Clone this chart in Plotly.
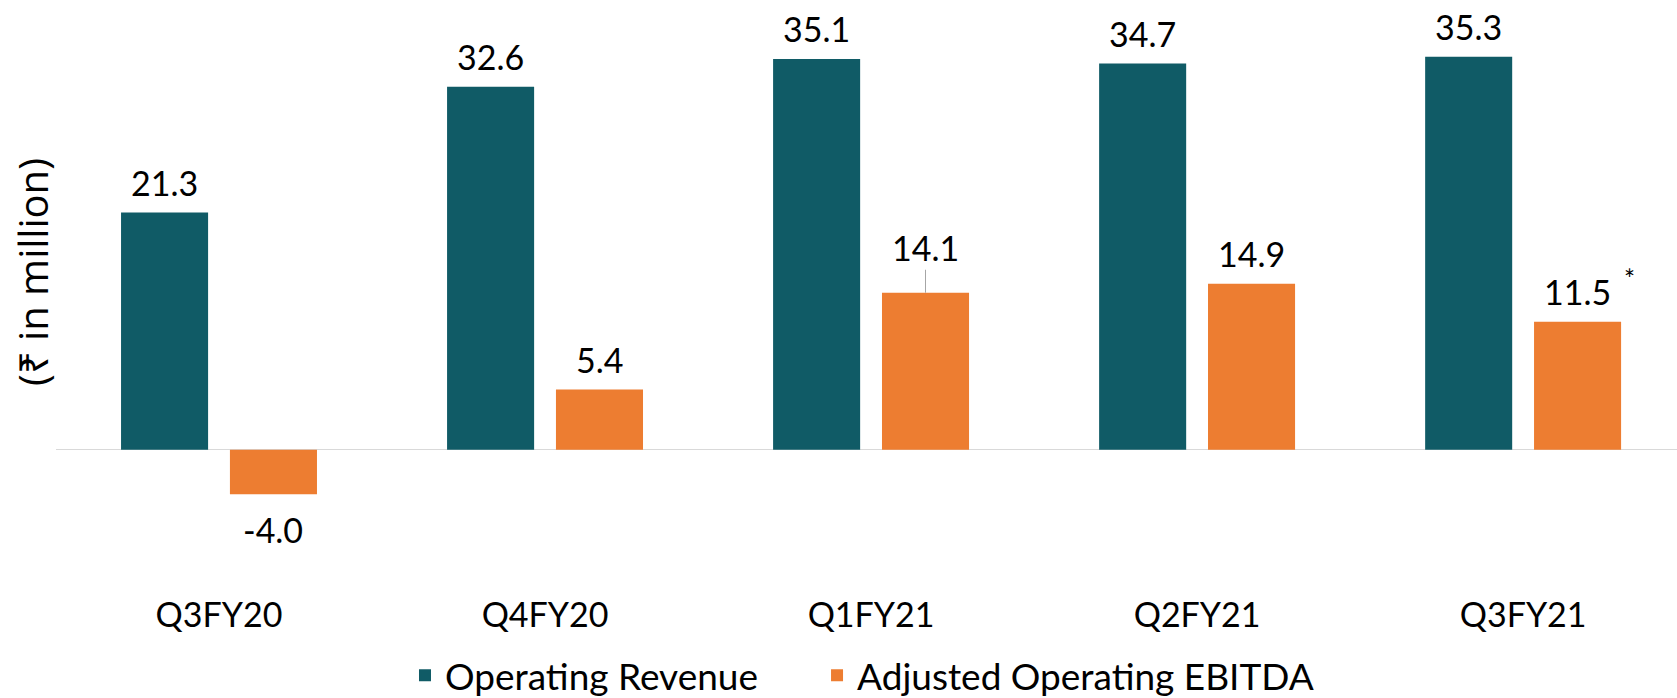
import plotly.graph_objects as go

# ---- data ----
categories = ["Q3FY20", "Q4FY20", "Q1FY21", "Q2FY21", "Q3FY21"]
operating_revenue = [21.3, 32.6, 35.1, 34.7, 35.3]
adjusted_ebitda = [-4.0, 5.4, 14.1, 14.9, 11.5]
series_names = ["Operating Revenue", "Adjusted Operating EBITDA"]
ebitda_notes = ["", "", "", "", "*"]
y_title = "(₹ in million)"

# ---- style ----
TEAL = "#105B66"
ORANGE = "#ED7D31"
FONT = "Lato"
FS = 34
BAR_W = 0.267
GAP = 0.067
off_rev = -(BAR_W + GAP / 2)
off_ebt = GAP / 2
LEADER_IDX = 2  # EBITDA label lifted with a leader line

x = list(range(len(categories)))

fig = go.Figure()
fig.add_bar(x=x, y=operating_revenue, width=BAR_W, offset=off_rev,
            marker=dict(color=TEAL, line=dict(width=0)), name=series_names[0],
            legend="legend")
fig.add_bar(x=x, y=adjusted_ebitda, width=BAR_W, offset=off_ebt,
            marker=dict(color=ORANGE, line=dict(width=0)), name=series_names[1],
            legend="legend2")

annotations = []


def add_label(xc, v, text, leader=False):
    if leader:
        annotations.append(dict(x=xc, y=v, xref="x", yref="y", text=text,
                                showarrow=True, arrowhead=0, arrowwidth=1,
                                arrowcolor="#A6A6A6", ax=0, ay=-45,
                                font=dict(family=FONT, size=FS, color="#000")))
    else:
        annotations.append(dict(x=xc, y=v, xref="x", yref="y", text=text,
                                showarrow=False, yanchor="middle",
                                yshift=30 if v >= 0 else -35,
                                font=dict(family=FONT, size=FS, color="#000")))


for i, v in enumerate(operating_revenue):
    add_label(i + off_rev + BAR_W / 2, v, f"{v:.1f}")
for i, v in enumerate(adjusted_ebitda):
    xc = i + off_ebt + BAR_W / 2
    add_label(xc, v, f"{v:.1f}", leader=(i == LEADER_IDX))
    if ebitda_notes[i]:
        annotations.append(dict(x=xc, y=v, xref="x", yref="y", text=ebitda_notes[i],
                                showarrow=False, xanchor="center", yanchor="middle",
                                xshift=52, yshift=43,
                                font=dict(family=FONT, size=26, color="#000")))

annotations.append(dict(x=-0.0148, y=0.515, xref="paper", yref="paper", text=y_title,
                        textangle=-90, showarrow=False, xanchor="center", yanchor="middle",
                        font=dict(family="Open Sans", size=40, color="#000")))

legend_common = dict(orientation="h", yref="container", y=0.032, yanchor="middle",
                     xref="container", xanchor="left",
                     font=dict(family=FONT, size=37, color="#000"),
                     bgcolor="rgba(0,0,0,0)")

fig.update_layout(
    width=1677, height=698,
    margin=dict(l=56, r=0, t=0, b=137),
    paper_bgcolor="white", plot_bgcolor="white",
    barmode="overlay",
    font=dict(family=FONT, size=FS, color="#000"),
    showlegend=True,
    legend=dict(x=0.2415, **legend_common),
    legend2=dict(x=0.4872, **legend_common),
    annotations=annotations,
)
fig.update_xaxes(tickmode="array", tickvals=x, ticktext=categories, range=[-0.5, 4.472],
                 showgrid=False, zeroline=False, showline=False, ticks="",
                 ticklabelstandoff=31, tickfont=dict(family=FONT, size=FS, color="#000"))
fig.update_yaxes(range=[-10, 40.4], showgrid=False, showticklabels=False, ticks="",
                 zeroline=True, zerolinecolor="#D9D9D9", zerolinewidth=1.3, showline=False)

fig.write_html("out.html")
